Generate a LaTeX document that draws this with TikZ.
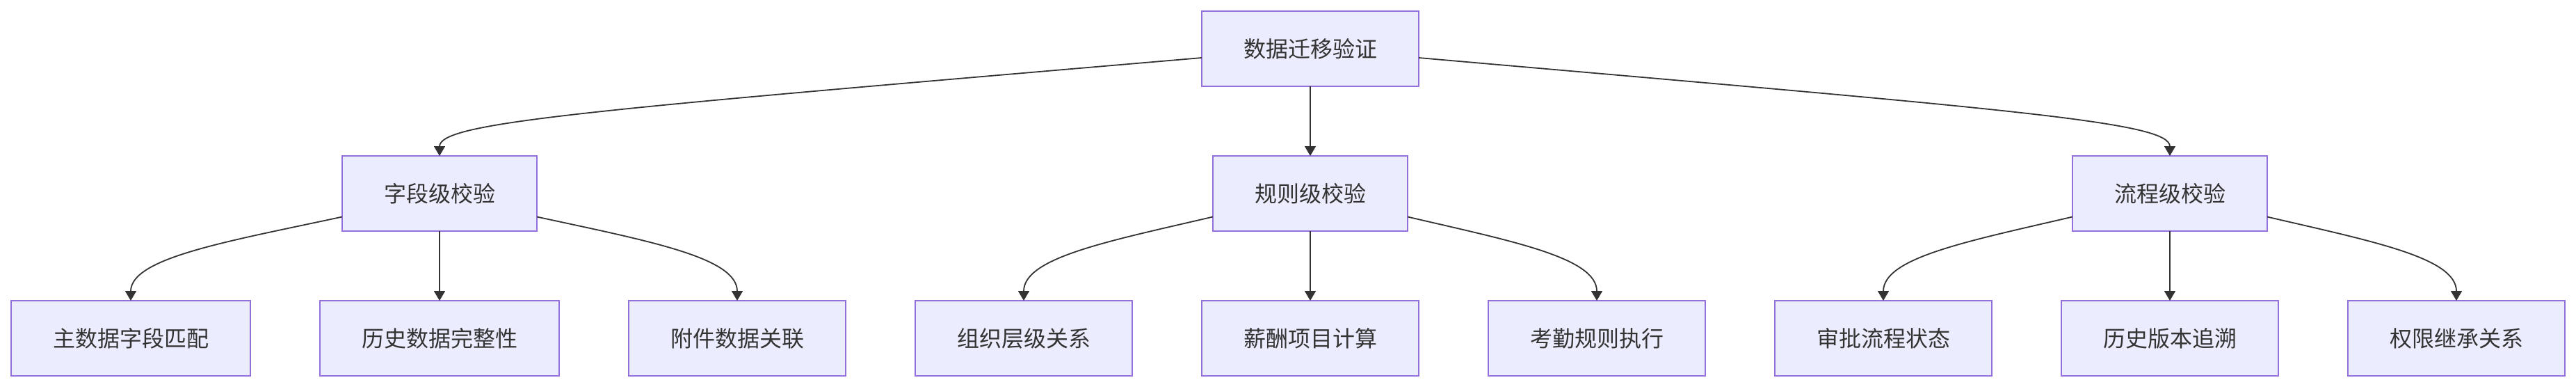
\documentclass[tikz,border=0pt]{standalone}
\usepackage{fontspec}
\newfontfamily\cjk{Noto Sans CJK SC}
\usepackage{tikz}
\usetikzlibrary{arrows.meta}
\usetikzlibrary{positioning}
\definecolor{boxfill}{HTML}{ECECFF}
\definecolor{boxline}{HTML}{9370DB}
\definecolor{ink}{HTML}{333333}

\begin{document}
\begin{tikzpicture}[->,>={Triangle[length=7pt,width=8pt]},node distance=50pt,
                    main node/.style={rectangle,draw=boxline,fill=boxfill,line width=1pt,text=ink,outer sep=0pt,
                    inner xsep=30pt,inner ysep=0pt,minimum height=54pt,font=\cjk\fontsize{16pt}{19pt}\selectfont},
                    link/.style={draw=ink,line width=0.9pt}]

  \useasboundingbox (0,0) rectangle (1852pt,-278pt);

  \node[main node] (verify) at (942pt,-35pt) {数据迁移验证};
  \node[main node] (rule) [below=of verify] {规则级校验};
  \node[main node] (r2) [below=of rule] {薪酬项目计算};
  \node[main node] (r1) [left=of r2] {组织层级关系};
  \node[main node] (r3) [right=of r2] {考勤规则执行};
  \node[main node] (f3) [left=of r1] {附件数据关联};
  \node[main node] (f2) [left=of f3] {历史数据完整性};
  \node[main node] (f1) [left=of f2] {主数据字段匹配};
  \node[main node] (p1) [right=of r3] {审批流程状态};
  \node[main node] (p2) [right=of p1] {历史版本追溯};
  \node[main node] (p3) [right=of p2] {权限继承关系};
  \node[main node] (field) [above=of f2] {字段级校验};
  \node[main node] (flow) [above=of p2] {流程级校验};

  \draw[link] ([yshift=-6.5pt]verify.west) .. controls +(-438pt,-37.5pt) and +(0,24.5pt) .. (field.north);
  \draw[link] (verify) -- (rule);
  \draw[link] ([yshift=-6.5pt]verify.east) .. controls +(430pt,-37.5pt) and +(0,24.5pt) .. (flow.north);

  \draw[link] ([yshift=-16.75pt]field.west) .. controls +(-81pt,-17.5pt) and +(0,31pt) .. (f1.north);
  \draw[link] (field) -- (f2);
  \draw[link] ([yshift=-16.75pt]field.east) .. controls +(81pt,-17.5pt) and +(0,31pt) .. (f3.north);

  \draw[link] ([yshift=-16.75pt]rule.west) .. controls +(-75pt,-17.5pt) and +(0,31pt) .. (r1.north);
  \draw[link] (rule) -- (r2);
  \draw[link] ([yshift=-16.75pt]rule.east) .. controls +(75pt,-17.5pt) and +(0,31pt) .. (r3.north);

  \draw[link] ([yshift=-16.75pt]flow.west) .. controls +(-75pt,-17.5pt) and +(0,31pt) .. (p1.north);
  \draw[link] (flow) -- (p2);
  \draw[link] ([yshift=-16.75pt]flow.east) .. controls +(75pt,-17.5pt) and +(0,31pt) .. (p3.north);
\end{tikzpicture}
\end{document}
